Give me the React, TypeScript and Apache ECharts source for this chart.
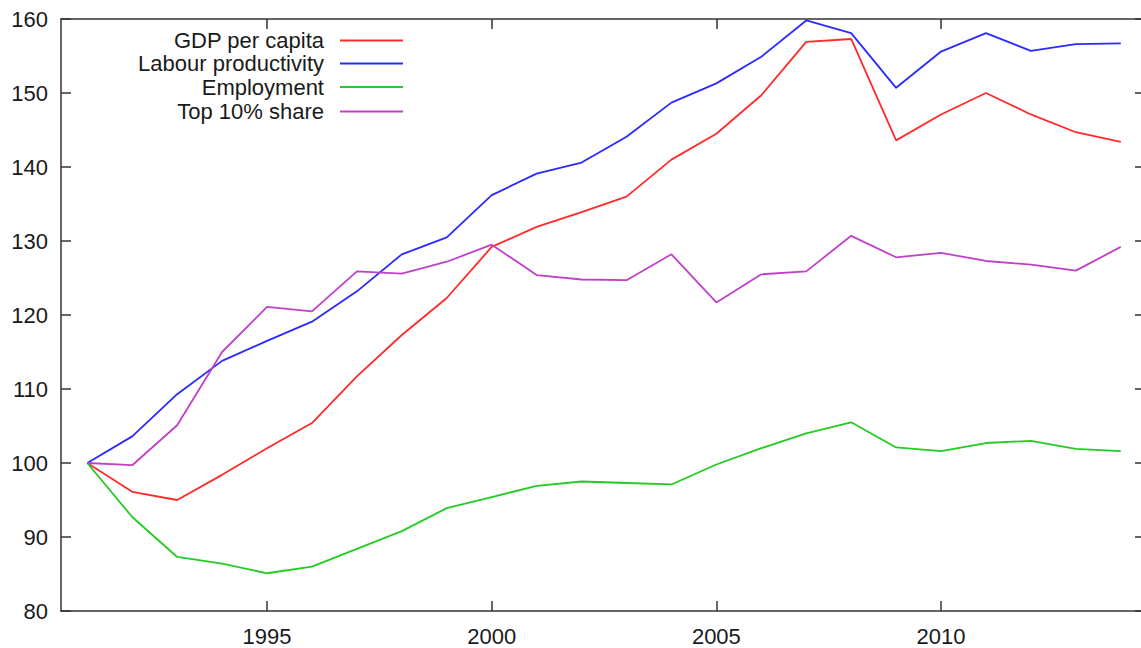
import React, { useEffect, useRef } from "react";
import * as echarts from "echarts";

const years = [1991, 1992, 1993, 1994, 1995, 1996, 1997, 1998, 1999, 2000, 2001, 2002, 2003, 2004, 2005, 2006, 2007, 2008, 2009, 2010, 2011, 2012, 2013, 2014];
const gdpPerCapita = [100, 96.1, 95.0, 98.4, 102.0, 105.4, 111.7, 117.3, 122.3, 129.2, 131.9, 133.9, 136.0, 141.0, 144.5, 149.7, 156.9, 157.3, 143.6, 147.1, 150.0, 147.1, 144.7, 143.4];
const labourProductivity = [100, 103.6, 109.3, 113.8, 116.5, 119.1, 123.2, 128.2, 130.5, 136.2, 139.1, 140.6, 144.1, 148.7, 151.3, 154.9, 159.8, 158.1, 150.7, 155.6, 158.1, 155.7, 156.6, 156.7];
const employment = [100, 92.7, 87.3, 86.4, 85.1, 86.0, 88.4, 90.8, 93.9, 95.4, 96.9, 97.5, 97.3, 97.1, 99.8, 102.0, 104.0, 105.5, 102.1, 101.6, 102.7, 103.0, 101.9, 101.6];
const top10Share = [100, 99.7, 105.1, 115.0, 121.1, 120.5, 125.9, 125.6, 127.2, 129.5, 125.4, 124.8, 124.7, 128.2, 121.7, 125.5, 125.9, 130.7, 127.8, 128.4, 127.3, 126.8, 126.0, 129.2];
const seriesNames = ["GDP per capita", "Labour productivity", "Employment", "Top 10% share"];
const seriesColors = ["#ff2a2a", "#2a2aff", "#22cc22", "#c040c8"];
const xTickValues = [1995, 2000, 2005, 2010];

const FONT = "'Liberation Sans', Arial, Helvetica, sans-serif";

export default function App() {
  const ref = useRef<HTMLDivElement>(null);
  useEffect(() => {
    document.body.style.margin = "0";
    const chart = echarts.init(ref.current!, null, { renderer: "svg" });
    const dataSets = [gdpPerCapita, labourProductivity, employment, top10Share];
    const axisLine = { show: true, lineStyle: { color: "#333", width: 1.5 } };
    const tickIn = { show: true, inside: true, length: 10, lineStyle: { color: "#333", width: 1.5 } };
    const legendTops = [29.5, 52.5, 76, 100.5];
    chart.setOption({
      animation: false,
      backgroundColor: "#fff",
      grid: { left: 61, top: 19, width: 1080, height: 592, containLabel: false },
      legend: seriesNames.map((n, i) => ({
        data: [n],
        orient: "horizontal",
        align: "right",
        right: 738,
        top: legendTops[i],
        icon: "rect",
        itemWidth: 63,
        itemHeight: 2,
        padding: 0,
        itemGap: 0,
        selectedMode: false,
        textStyle: { fontFamily: FONT, fontSize: 22, color: "#1a1a1a", padding: [0, 11, 0, 0] },
      })),
      xAxis: [
        {
          type: "value",
          min: 1990.415,
          max: 2014.45,
          position: "bottom",
          axisLine,
          axisTick: { ...tickIn, customValues: xTickValues },
          axisLabel: {
            customValues: xTickValues,
            formatter: (v: number) => String(v),
            fontFamily: FONT,
            fontSize: 22,
            color: "#1a1a1a",
            margin: 14,
          },
          splitLine: { show: false },
        },
        {
          type: "value",
          min: 1990.415,
          max: 2014.45,
          position: "top",
          axisLine,
          axisTick: { ...tickIn, customValues: xTickValues },
          axisLabel: { show: false },
          splitLine: { show: false },
        },
      ],
      yAxis: [
        {
          type: "value",
          min: 80,
          max: 160,
          interval: 10,
          position: "left",
          axisLine,
          axisTick: tickIn,
          axisLabel: { fontFamily: FONT, fontSize: 22, color: "#1a1a1a", margin: 13 },
          splitLine: { show: false },
        },
        {
          type: "value",
          min: 80,
          max: 160,
          interval: 10,
          position: "right",
          axisLine: { show: false },
          axisTick: { ...tickIn, length: 6 },
          axisLabel: { show: false },
          splitLine: { show: false },
        },
      ],
      series: seriesNames.map((n, i) => ({
        name: n,
        type: "line",
        symbol: "none",
        color: seriesColors[i],
        lineStyle: { color: seriesColors[i], width: 1.8 },
        data: years.map((y, j) => [y, dataSets[i][j]]),
      })),
    });
    return () => chart.dispose();
  }, []);
  return <div ref={ref} style={{ width: 1141, height: 648 }} />;
}
